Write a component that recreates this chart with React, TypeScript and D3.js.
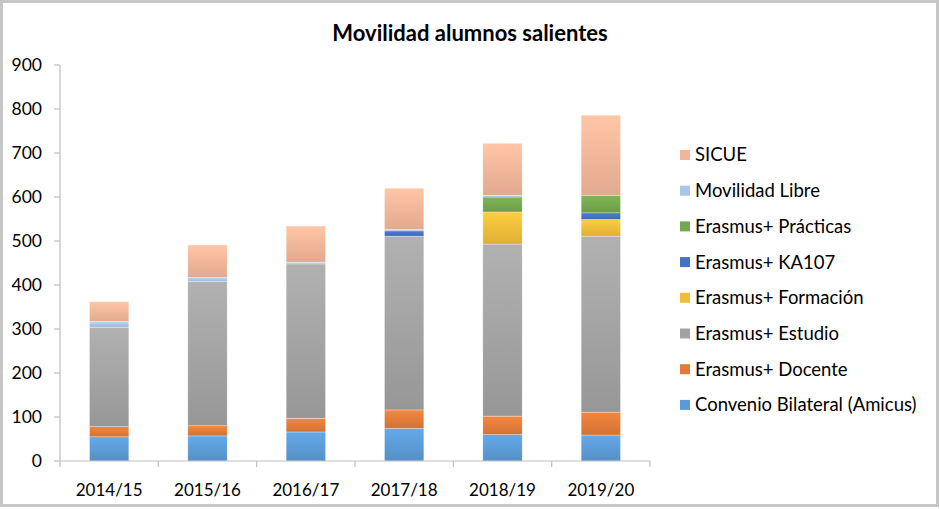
import React from "react";
import * as d3 from "d3";

const categories = ["2014/15", "2015/16", "2016/17", "2017/18", "2018/19", "2019/20"];
const seriesNames = [
  "Convenio Bilateral (Amicus)",
  "Erasmus+ Docente",
  "Erasmus+ Estudio",
  "Erasmus+ Formación",
  "Erasmus+ KA107",
  "Erasmus+ Prácticas",
  "Movilidad Libre",
  "SICUE",
];
const amicus = [55, 57, 66, 74, 60, 59];
const docente = [23, 23, 31, 42, 42, 52];
const estudio = [226, 328, 351, 395, 391, 400];
const formacion = [0, 0, 0, 0, 73, 38];
const ka107 = [0, 0, 0, 12, 0, 15];
const practicas = [0, 0, 0, 0, 34, 40];
const libre = [13, 9, 4, 3, 4, 0];
const sicue = [45, 74, 82, 94, 118, 182];
const yTicks = [0, 100, 200, 300, 400, 500, 600, 700, 800, 900];

const seriesValues = [amicus, docente, estudio, formacion, ka107, practicas, libre, sicue];
const colors = ["#5b9bd5", "#e07b39", "#a2a2a2", "#f0bc3a", "#4472c4", "#75a74e", "#a9c6e8", "#f2b598"];

const W = 940;
const H = 509;
const font = "Lato, 'Open Sans', 'Liberation Sans', sans-serif";

export default function App() {
  const rows = categories.map((c, i) => {
    const r: any = { cat: c };
    seriesNames.forEach((s, j) => (r[s] = seriesValues[j][i]));
    return r;
  });
  const stacked = d3.stack().keys(seriesNames)(rows);

  const x = d3.scaleBand().domain(categories).range([60, 650]).paddingInner(0.6).paddingOuter(0.3);
  const xb = d3.scaleBand().domain(categories).range([60, 650]);
  const y = d3.scaleLinear().domain([0, 900]).range([461, 65]);
  const axisColor = "#bfbfbf";

  const legendOrder = [...seriesNames].reverse();

  return (
    <svg width={W} height={H} style={{ position: "absolute", left: 0, top: 0, background: "#fff" }}>
      <defs>
        {colors.map((c, i) => {
          const col = d3.color(c)!;
          return (
            <linearGradient key={i} id={`g${i}`} x1="0" y1="0" x2="0" y2="1">
              <stop offset="0%" stopColor={col.brighter(0.25).formatHex()} />
              <stop offset="100%" stopColor={col.darker(0.2).formatHex()} />
            </linearGradient>
          );
        })}
      </defs>
      <rect x={1.5} y={1.5} width={W - 4} height={H - 5} fill="#fff" stroke="#c6c6c6" strokeWidth={3} />
      <text x={470} y={41} textAnchor="middle" fontFamily={font} fontWeight="bold" fontSize={22} fill="#000">
        Movilidad alumnos salientes
      </text>

      {/* y axis */}
      <line x1={60} x2={60} y1={y(900)} y2={y(0)} stroke={axisColor} strokeWidth={1.2} />
      {yTicks.map((t) => (
        <g key={t}>
          <line x1={54} x2={60} y1={y(t)} y2={y(t)} stroke={axisColor} strokeWidth={1.2} />
          <text x={42} y={y(t)} dy="0.35em" textAnchor="end" fontFamily={font} fontSize={17.5} fill="#000">
            {t}
          </text>
        </g>
      ))}

      {/* bars */}
      {stacked.map((layer, li) =>
        layer.map((d, i) =>
          d[1] - d[0] > 0 ? (
            <rect
              key={`${li}-${i}`}
              x={x(categories[i])}
              width={x.bandwidth()}
              y={y(d[1])}
              height={y(d[0]) - y(d[1])}
              fill={`url(#g${li})`}
              stroke="#ffffff"
              strokeOpacity={0.5}
              strokeWidth={0.6}
            />
          ) : null
        )
      )}

      {/* x axis */}
      <line x1={60} x2={650} y1={y(0)} y2={y(0)} stroke={axisColor} strokeWidth={1.2} />
      {categories.map((c) => (
        <line key={c} x1={xb(c)!} x2={xb(c)!} y1={y(0)} y2={y(0) + 6} stroke={axisColor} strokeWidth={1.2} />
      ))}
      <line x1={650} x2={650} y1={y(0)} y2={y(0) + 6} stroke={axisColor} strokeWidth={1.2} />
      {categories.map((c) => (
        <text
          key={c}
          x={xb(c)! + xb.bandwidth() / 2}
          y={490}
          dy="0.35em"
          textAnchor="middle"
          fontFamily={font}
          fontSize={17}
          fill="#000"
        >
          {c}
        </text>
      ))}

      {/* legend */}
      {legendOrder.map((s, i) => {
        const idx = seriesNames.indexOf(s);
        const cy = 155 + i * 35.7;
        return (
          <g key={s}>
            <rect x={680} y={cy - 5} width={10} height={10} fill={colors[idx]} />
            <text x={695} y={cy} dy="0.35em" fontFamily={font} fontSize={18.5} fill="#000">
              {s}
            </text>
          </g>
        );
      })}
    </svg>
  );
}
